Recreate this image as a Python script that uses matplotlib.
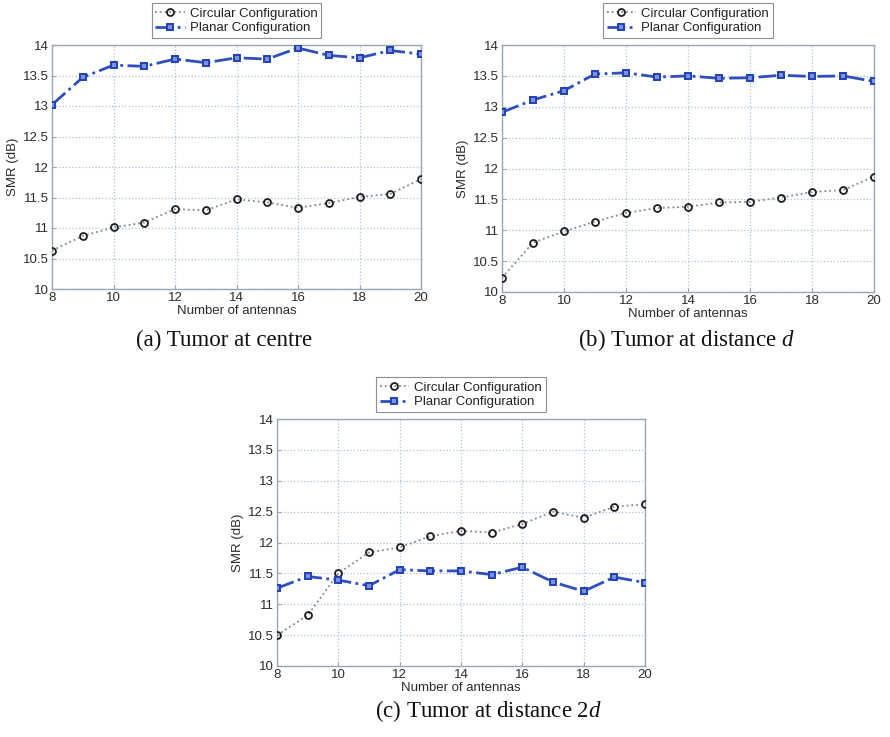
import matplotlib
matplotlib.use("Agg")
import matplotlib.pyplot as plt

plt.rcParams["font.family"] = ["Liberation Sans", "DejaVu Sans"]
plt.rcParams["mathtext.fontset"] = "custom"
plt.rcParams["mathtext.it"] = "Liberation Serif:italic"

antennas = list(range(8, 21))

# (a) tumor at centre
circ_a = [10.63, 10.87, 11.01, 11.09, 11.31, 11.29, 11.47, 11.42, 11.33, 11.41, 11.51, 11.56, 11.80]
plan_a = [13.02, 13.47, 13.67, 13.65, 13.77, 13.71, 13.79, 13.77, 13.95, 13.83, 13.79, 13.91, 13.85]

# (b) tumor at distance d
circ_b = [10.23, 10.80, 10.98, 11.14, 11.28, 11.36, 11.38, 11.45, 11.46, 11.53, 11.62, 11.65, 11.87]
plan_b = [12.91, 13.11, 13.26, 13.53, 13.55, 13.48, 13.50, 13.46, 13.47, 13.51, 13.49, 13.50, 13.41]

# (c) tumor at distance 2d
circ_c = [10.50, 10.82, 11.50, 11.84, 11.92, 12.10, 12.19, 12.16, 12.30, 12.50, 12.40, 12.58, 12.62]
plan_c = [11.26, 11.45, 11.39, 11.30, 11.56, 11.54, 11.54, 11.48, 11.60, 11.36, 11.21, 11.44, 11.35]

x_ticks = [8, 10, 12, 14, 16, 18, 20]
y_ticks = [10, 10.5, 11, 11.5, 12, 12.5, 13, 13.5, 14]
y_labels = ["10", "10.5", "11", "11.5", "12", "12.5", "13", "13.5", "14"]

captions = [
    r"(a) Tumor at centre",
    r"(b) Tumor at distance $\mathit{d}$",
    r"(c) Tumor at distance 2$\mathit{d}$",
]

W, H = 890, 737
# axes boxes in pixels: left, top, right, bottom ; caption centre in pixels
panels = [
    ((52, 45, 421, 289), circ_a, plan_a, captions[0], (224, 340)),
    ((502, 45, 874, 292), circ_b, plan_b, captions[1], (686, 340)),
    ((277, 419, 645, 666), circ_c, plan_c, captions[2], (488, 711)),
]

fig = plt.figure(figsize=(W / 100, H / 100), dpi=100)

spine_col = "#9aa6b2"
text_col = "#2b2b2b"
for (l, t, r, b), circ, plan, caption, (cx, cy) in panels:
    ax = fig.add_axes([l / W, 1 - b / H, (r - l) / W, (b - t) / H])
    ax.plot(antennas, circ, linestyle=":", color="#7f8894", linewidth=1.3,
            marker="o", markersize=5, markerfacecolor="none",
            markeredgecolor="#1e1e1e", markeredgewidth=1.3,
            label="Circular Configuration", zorder=3)
    ax.plot(antennas, plan, linestyle="-.", color="#2d4fc0", linewidth=2.0,
            marker="s", markersize=4.8, markerfacecolor="#7d92d8",
            markeredgecolor="#2040b8", markeredgewidth=1.4,
            label="Planar Configuration", zorder=3)
    ax.set_xlim(8, 20)
    ax.set_ylim(10, 14)
    ax.set_xticks(x_ticks)
    ax.set_yticks(y_ticks)
    ax.set_yticklabels(y_labels)
    ax.grid(True, linestyle=":", color="#a9c2d8", linewidth=0.9)
    ax.tick_params(labelsize=9.5, colors=spine_col, labelcolor=text_col,
                   direction="in", length=3, pad=2)
    for sp in ax.spines.values():
        sp.set_color(spine_col)
        sp.set_linewidth(1.0)
    ax.set_xlabel("Number of antennas", fontsize=9.5, color=text_col, labelpad=1)
    ax.set_ylabel("SMR (dB)", fontsize=9.5, color=text_col, labelpad=3)
    leg = ax.legend(loc="lower center", bbox_to_anchor=(0.5, 1.0), fontsize=9.5,
                    frameon=True, fancybox=False, framealpha=1,
                    handlelength=2.2, borderpad=0.3, labelspacing=0.2,
                    handletextpad=0.4)
    leg.get_frame().set_edgecolor("#8a8f96")
    leg.get_frame().set_linewidth(0.8)
    for txt in leg.get_texts():
        txt.set_color("#222222")
    fig.text(cx / W, 1 - cy / H, caption, ha="center", va="center",
             fontsize=16.5, family="Liberation Serif", color="#111111")

fig.savefig("out.png", dpi=100)
